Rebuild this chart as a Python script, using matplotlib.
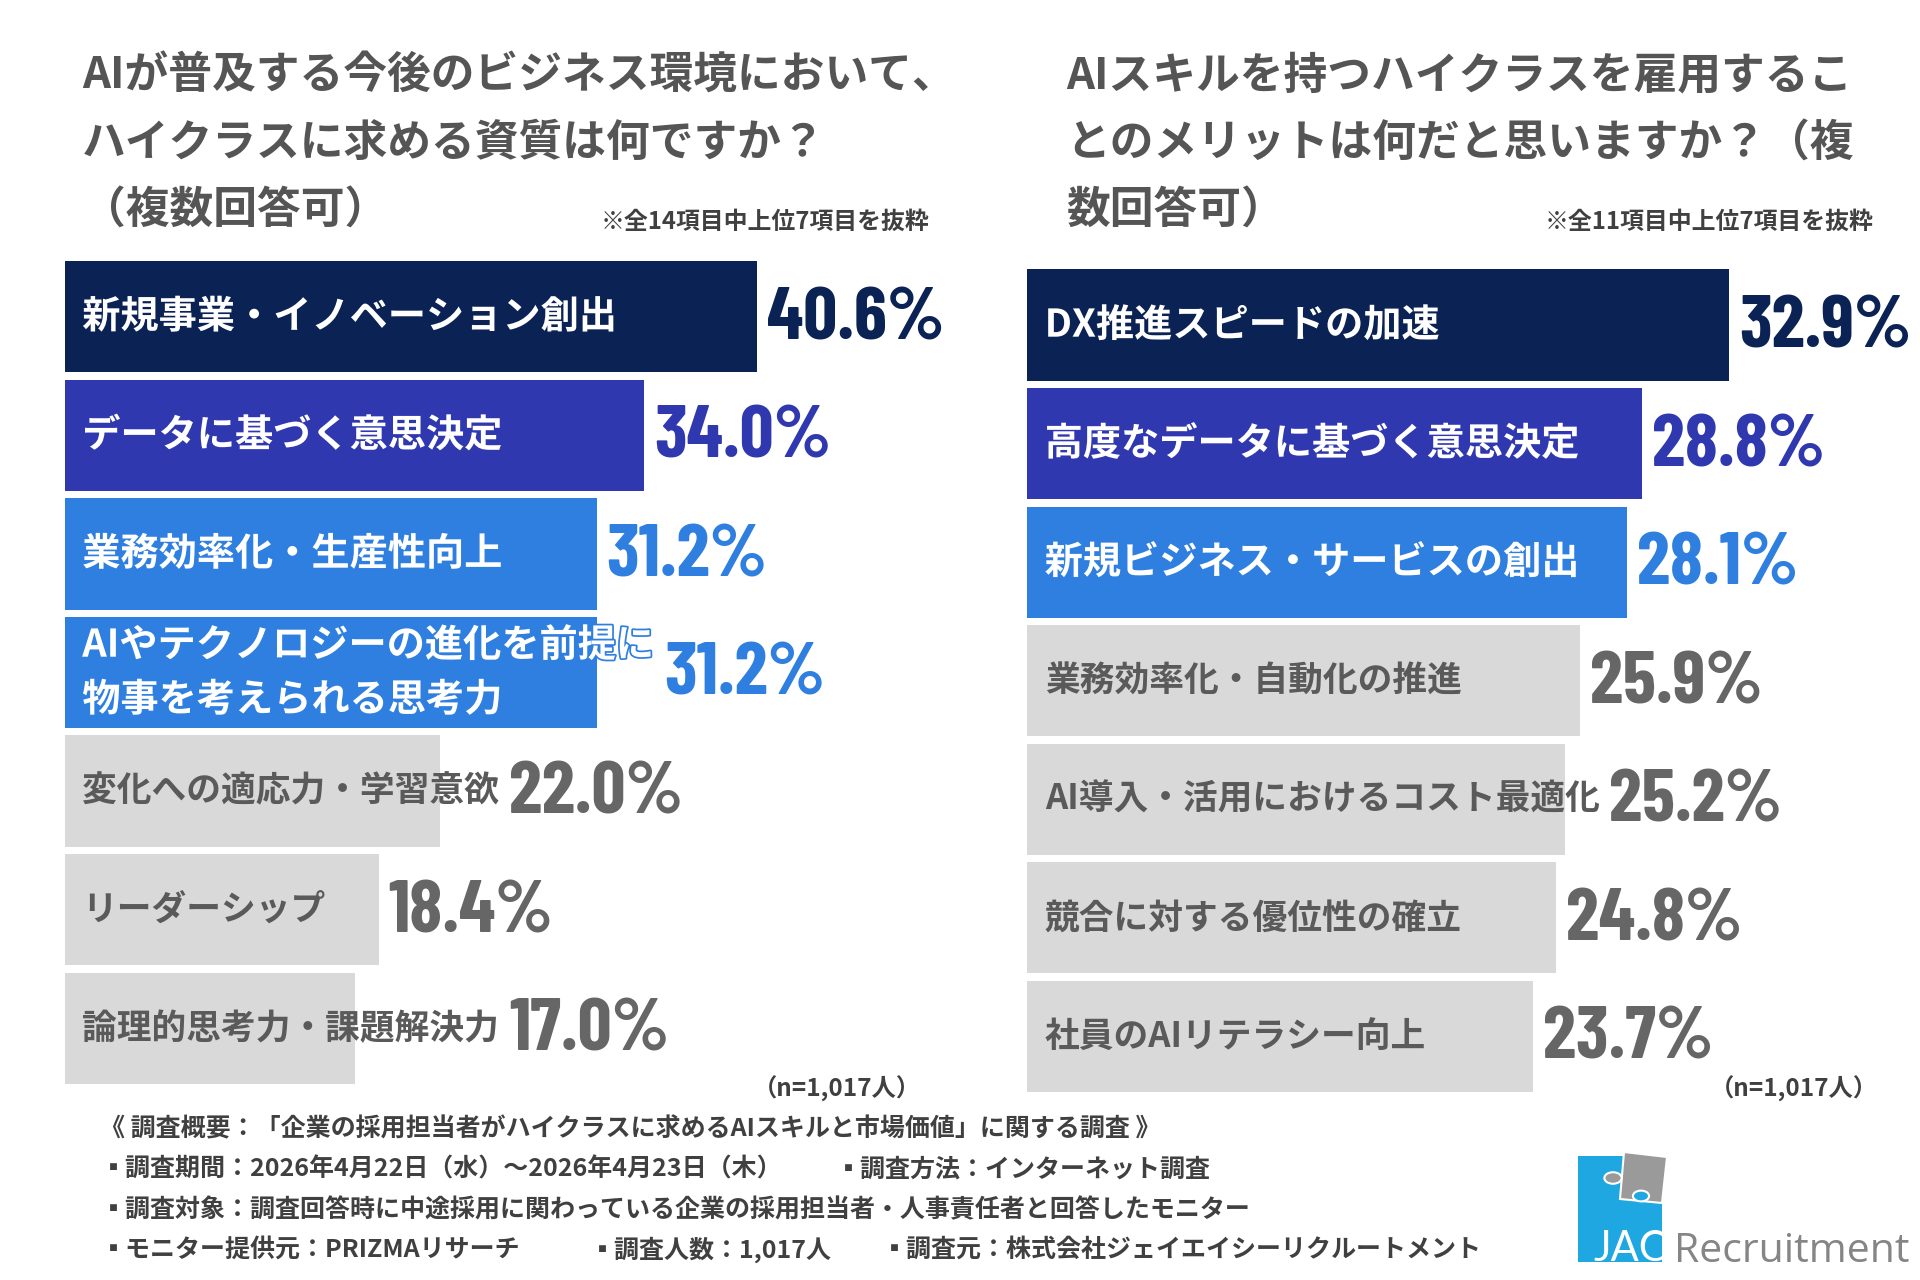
import matplotlib
matplotlib.use("Agg")
import matplotlib.pyplot as plt
import matplotlib.patheffects as pe
from matplotlib.patches import Rectangle, Polygon, Circle

plt.rcParams['font.family'] = ['Noto Sans CJK JP', 'DejaVu Sans']

# ---- data ----
left_title = ["AIが普及する今後のビジネス環境において、",
              "ハイクラスに求める資質は何ですか？",
              "（複数回答可）"]
left_note = "※全14項目中上位7項目を抜粋"
left_labels = ["新規事業・イノベーション創出",
               "データに基づく意思決定",
               "業務効率化・生産性向上",
               "AIやテクノロジーの進化を前提に\n物事を考えられる思考力",
               "変化への適応力・学習意欲",
               "リーダーシップ",
               "論理的思考力・課題解決力"]
left_values = [40.6, 34.0, 31.2, 31.2, 22.0, 18.4, 17.0]
left_highlight = 4   # number of coloured bars

right_title = ["AIスキルを持つハイクラスを雇用するこ",
               "とのメリットは何だと思いますか？（複",
               "数回答可）"]
right_note = "※全11項目中上位7項目を抜粋"
right_labels = ["DX推進スピードの加速",
                "高度なデータに基づく意思決定",
                "新規ビジネス・サービスの創出",
                "業務効率化・自動化の推進",
                "AI導入・活用におけるコスト最適化",
                "競合に対する優位性の確立",
                "社員のAIリテラシー向上"]
right_values = [32.9, 28.8, 28.1, 25.9, 25.2, 24.8, 23.7]
right_highlight = 3

n_label = "（n=1,017人）"

footer_lines = [
    [(82, "《 調査概要：「企業の採用担当者がハイクラスに求めるAIスキルと市場価値」に関する調査 》")],
    [(82, "▪調査期間：2026年4月22日（水）～2026年4月23日（木）"),
     (683, "▪調査方法：インターネット調査")],
    [(82, "▪調査対象：調査回答時に中途採用に関わっている企業の採用担当者・人事責任者と回答したモニター")],
    [(82, "▪モニター提供元：PRIZMAリサーチ"),
     (482, "▪調査人数：1,017人"),
     (720, "▪調査元：株式会社ジェイエイシーリクルートメント")],
]

# ---- style ----
NAVY, INDIGO, BLUE, GRAY = '#0b2254', '#3038b0', '#2f7fe0', '#d9d9d9'
TITLE_C, TEXT_C, VAL_GRAY = '#555555', '#404040', '#666666'
VALUE_FONT = dict(family=['Barlow Condensed', 'DejaVu Sans'], weight='bold', size=54)

W_D, H_D = 1568.0, 1045.0   # layout measured on a 1568x1045 view


def fx(x):
    return x / W_D


def fy(y):
    return 1 - y / H_D


def colours(n, n_hi):
    hi = [NAVY, INDIGO, BLUE, BLUE]
    return [hi[i] if i < n_hi else GRAY for i in range(n)]


fig = plt.figure(figsize=(19.2, 12.8), dpi=100)
fig.patch.set_facecolor('white')


def panel(rect, xmax, labels, values, n_hi):
    ax = fig.add_axes(rect)
    ys = list(range(len(values)))
    cols = colours(len(values), n_hi)
    ax.barh(ys, values, height=0.94, color=cols, edgecolor='none')
    ax.set_xlim(0, xmax)
    ax.set_ylim(len(values) - 0.5, -0.5)
    ax.axis('off')
    texts = []
    for i, (lab, c) in enumerate(zip(labels, cols)):
        if c == GRAY:
            t = ax.annotate(lab, xy=(0, i), xytext=(12.5, 0), textcoords='offset points',
                            ha='left', va='center', fontsize=25, fontweight='bold',
                            color='#5a5a5a', linespacing=1.5)
        else:
            t = ax.annotate(lab, xy=(0, i), xytext=(12.5, 0), textcoords='offset points',
                            ha='left', va='center', fontsize=27.5, fontweight='bold',
                            color='white', linespacing=1.5,
                            path_effects=[pe.withStroke(linewidth=2.5, foreground=c)])
        texts.append(t)
    fig.canvas.draw()
    r = fig.canvas.get_renderer()
    inv = ax.transData.inverted()
    for i, (t, v, c) in enumerate(zip(texts, values, cols)):
        bb = t.get_window_extent(r)
        x_end = inv.transform((bb.x1, 0))[0]
        ax.annotate(f"{v:.1f}%", xy=(max(v, x_end), i), xytext=(7, -2.5),
                    textcoords='offset points', ha='left', va='center',
                    color=VAL_GRAY if c == GRAY else c, **VALUE_FONT)
    return ax


panel([fx(53), fy(887.9), 696 / W_D, 677.8 / H_D], 50, left_labels, left_values, left_highlight)
panel([fx(839), fy(894.4), 697 / W_D, 677.3 / H_D], 40, right_labels, right_values, right_highlight)

# titles
for x0, lines in ((67, left_title), (871, right_title)):
    for k, line in enumerate(lines):
        fig.text(fx(x0), fy(62 + 55 * k), line, ha='left', va='center',
                 fontsize=31.5, fontweight='bold', color=TITLE_C)

fig.text(fx(759), fy(181), left_note, ha='right', va='center', fontsize=17.2, fontweight='bold', color=TEXT_C)
fig.text(fx(1530), fy(181), right_note, ha='right', va='center', fontsize=17.2, fontweight='bold', color=TEXT_C)

fig.text(fx(752), fy(889), n_label, ha='right', va='center', fontsize=17.5, fontweight='bold', color=TEXT_C)
fig.text(fx(1534), fy(889), n_label, ha='right', va='center', fontsize=17.5, fontweight='bold', color=TEXT_C)

# footer
for k, parts in enumerate(footer_lines):
    for x0, s in parts:
        fig.text(fx(x0), fy(922 + 32.8 * k), s, ha='left', va='center', fontsize=18,
                 fontweight='bold', color=TEXT_C,
                 family=['Noto Sans CJK JP', 'DejaVu Sans'])


# logo (pixel coords of the 1920x1280 output)
def gx(x):
    return x / 1920.0


def gy(y):
    return 1 - y / 1280.0


LOGO_BLUE, LOGO_GRAY = '#1ea7e1', '#9a9a9a'
fig.patches.append(Rectangle((gx(1578), gy(1262)), gx(1662) - gx(1578), gy(1156) - gy(1262),
                             transform=fig.transFigure, facecolor=LOGO_BLUE, edgecolor='none'))
fig.patches.append(Polygon([(gx(1624), gy(1152)), (gx(1667), gy(1157)), (gx(1662), gy(1203)),
                            (gx(1620), gy(1199))], closed=True, transform=fig.transFigure,
                           facecolor=LOGO_GRAY, edgecolor='white', linewidth=1.5))
fig.patches.append(Circle((gx(1613), gy(1178)), 0.0045, transform=fig.transFigure,
                          facecolor=LOGO_GRAY, edgecolor='white', linewidth=1.5))
fig.patches.append(Circle((gx(1641), gy(1196)), 0.0042, transform=fig.transFigure,
                          facecolor=LOGO_BLUE, edgecolor='white', linewidth=1.5))
fig.text(gx(1593), gy(1261), "JAC", ha='left', va='baseline', fontsize=30,
         family='Lato', color='white')
fig.text(gx(1674), gy(1262), "Recruitment", ha='left', va='baseline', fontsize=29.5,
         family='Open Sans', color='#858585')

fig.savefig("out.png", dpi=100, facecolor='white')
